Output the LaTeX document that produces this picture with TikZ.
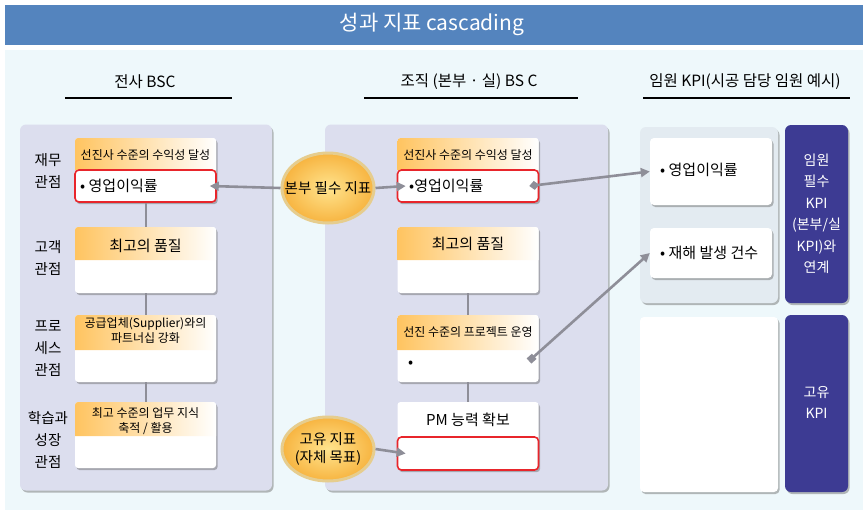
\documentclass[tikz,border=0pt]{standalone}
\usepackage{fontspec}
\setmainfont{Noto Sans CJK KR}
\usetikzlibrary{shapes.geometric,shadows,arrows.meta}
\definecolor{titlebl}{HTML}{5484BE}
\definecolor{bgc}{HTML}{EEF8FB}
\definecolor{panel}{HTML}{DCDEEE}
\definecolor{hdr}{HTML}{FFC460}
\definecolor{redb}{HTML}{E8252B}
\definecolor{navy}{HTML}{3D3B93}
\definecolor{conn}{HTML}{8E8E98}
\definecolor{rpanel}{HTML}{E3EBF1}
\definecolor{ovalrim}{HTML}{E6CD8E}
\definecolor{ovalin}{HTML}{FFE48E}
\definecolor{ovalout}{HTML}{F7B440}
\tikzset{
  shad/.style={drop shadow={shadow xshift=1.5pt, shadow yshift=-2pt, opacity=0.45, fill=black!60}},
  panelbox/.style={fill=panel, rounded corners=6pt, inner sep=0pt, shad},
  card/.style={fill=white, rounded corners=3pt, inner sep=0pt, minimum width=141pt, shad},
  redbox/.style={draw=redb, line width=1.6pt, fill=white, rounded corners=4pt, inner sep=0pt,
    minimum width=141pt, minimum height=32pt},
  hdrshade/.style={left color=hdr, right color=white, middle color=hdr!50},
  oval/.style={ellipse, draw=ovalrim, line width=3pt, inner color=ovalin, outer color=ovalout,
    minimum width=92pt, minimum height=70pt, inner sep=0pt},
  navybox/.style={fill=navy, rounded corners=6pt, inner sep=0pt, minimum width=63pt, shad},
  whitebox/.style={fill=white, rounded corners=4pt, inner sep=0pt, shad},
  heading/.style={font=\fontsize{15.5}{18}\selectfont, inner sep=0pt},
  uline/.style={line width=2.5pt, black},
  side/.style={font=\fontsize{14.5}{22}\selectfont, align=center, inner sep=0pt},
  hsmall/.style={font=\fontsize{12}{15}\selectfont, align=center, inner sep=0pt},
  hmid/.style={font=\fontsize{15}{17}\selectfont, inner sep=0pt},
  kpi/.style={font=\fontsize{15}{17}\selectfont, inner sep=0pt, anchor=west},
  conline/.style={draw=conn, line width=2pt},
  arr/.style={draw=conn, line width=2.6pt, -{Triangle[length=9pt,width=9pt]}},
}
\begin{document}
\begin{tikzpicture}[x=1pt,y=-1pt]
\useasboundingbox (0,0) rectangle (868,512);
\fill[white] (0,0) rectangle (868,512);
% title
\fill[titlebl] (5,5) rectangle (863,45);
\node[text=white, font=\fontsize{21}{24}\selectfont, inner sep=0pt] (title) at (432,24) {성과 지표 cascading};
% background
\fill[bgc] (5,50) rectangle (863,510);
% headings
\node[heading] (h1) at (145,82) {전사 BSC};
\node[heading] (h2) at (469,82) {조직 (본부 · 실) BS C};
\node[heading] (h3) at (745,82) {임원 KPI(시공 담당 임원 예시)};
\draw[uline] (65,98) -- (232,98);
\draw[uline] (364,98) -- (578,98);
\draw[uline] (643,98) -- (850,98);

% panels
\node[panelbox, minimum width=252pt, minimum height=366pt] (lp) at (146,307.5) {};
\node[panelbox, minimum width=283pt, minimum height=366pt] (mp) at (466.5,307.5) {};
\node[panelbox, fill=rpanel, minimum width=138pt, minimum height=176pt] (rp) at (709,215) {};
\node[whitebox, minimum width=138pt, minimum height=175pt] (rl) at (709,404.5) {};
\node[navybox, minimum height=178pt] (nv1) at (816.5,214) {};
\node[navybox, minimum height=177pt] (nv2) at (816.5,403.5) {};

% side labels
\node[side] (s1) at (48,171) {재무\\관점};
\node[side] (s2) at (48,258) {고객\\관점};
\node[side] (s3) at (48,348) {프로\\세스\\관점};
\node[side] (s4) at (48,440) {학습과\\성장\\관점};

% ---- left column cards
\node[card, minimum height=64pt] (l1) at (145.5,170) {};
\shade[hdrshade] (75,170) [rounded corners=3pt]-- (75,138) -- (216,138) [sharp corners]-- (216,170) -- cycle;
\node[hsmall] (l1h) at (145.5,155) {선진사 수준의 수익성 달성};
\node[redbox] (l1r) at (145.5,186) {};
\node[kpi] (l1t) at (80,186) {• 영업이익률};

\node[card, minimum height=66pt] (l2) at (145.5,260) {};
\shade[hdrshade] (75,260) [rounded corners=3pt]-- (75,227) -- (216,227) [sharp corners]-- (216,260) -- cycle;
\node[hmid] (l2h) at (145.5,246) {최고의 품질};

\node[card, minimum height=67pt] (l3) at (145.5,348.5) {};
\shade[hdrshade] (75,350) [rounded corners=3pt]-- (75,315) -- (216,315) [sharp corners]-- (216,350) -- cycle;
\node[hsmall] (l3h) at (145.5,331) {공급업체(Supplier)와의\\파트너십 강화};

\node[card, minimum height=66pt] (l4) at (145.5,435) {};
\shade[hdrshade] (75,436) [rounded corners=3pt]-- (75,402) -- (216,402) [sharp corners]-- (216,436) -- cycle;
\node[hsmall] (l4h) at (145.5,421) {최고 수준의 업무 지식\\축적 / 활용};

\draw[conline] (l1r.south) -- (l2.north);
\draw[conline] (l2.south) -- (l3.north);
\draw[conline] (l3.south) -- (l4.north);

% ---- middle column cards
\node[card, minimum height=64pt] (m1) at (468,170) {};
\shade[hdrshade] (397.5,170) [rounded corners=3pt]-- (397.5,138) -- (538.5,138) [sharp corners]-- (538.5,170) -- cycle;
\node[hsmall] (m1h) at (468,155) {선진사 수준의 수익성 달성};
\node[redbox] (m1r) at (468,186) {};
\node[kpi] (m1t) at (409,186) {•영업이익률};

\node[card, minimum height=66pt] (m2) at (468,260) {};
\shade[hdrshade] (397.5,260) [rounded corners=3pt]-- (397.5,227) -- (538.5,227) [sharp corners]-- (538.5,260) -- cycle;
\node[hmid] (m2h) at (468,244) {최고의 품질};

\node[card, minimum height=67pt] (m3) at (468,348.5) {};
\shade[hdrshade] (397.5,350) [rounded corners=3pt]-- (397.5,315) -- (538.5,315) [sharp corners]-- (538.5,350) -- cycle;
\node[hsmall] (m3h) at (468,332) {선진 수준의 프로젝트 운영};
\node[kpi] (m3t) at (408,364) {•};
\coordinate (m3tail) at (529,361);

\node[card, minimum height=68pt] (m4) at (468,436) {};
\node[hmid] (m4h) at (468,420) {PM 능력 확보};
\node[redbox, minimum height=33pt] (m4r) at (468,453.5) {};

\draw[conline] (m2.south) -- (m3.north);
\draw[conline] (m3.south) -- (m4.north);

% ---- right boxes
\node[whitebox, minimum width=122pt, minimum height=67pt] (r1) at (711,171.5) {};
\node[kpi] (r1t) at (660,170) {• 영업이익률};
\node[whitebox, minimum width=122pt, minimum height=50pt] (r2) at (711,253) {};
\node[kpi] (r2t) at (660,253) {• 재해 발생 건수};

% navy texts
\node[text=white, align=center, font=\fontsize{14}{21.5}\selectfont, inner sep=0pt] (nv1t) at (nv1) {임원\\필수\\KPI\\(본부/실\\KPI)와\\연계};
\node[text=white, align=center, font=\fontsize{14}{21}\selectfont, inner sep=0pt] (nv2t) at (816.5,402.5) {고유\\KPI};

% ---- ovals
\node[oval] (bon) at (328,188) {};
\node[font=\fontsize{14.5}{16}\selectfont, inner sep=0pt] (bont) at (bon) {본부 필수 지표};
\node[oval, minimum height=64pt] (gy) at (328,449) {};
\node[font=\fontsize{14.5}{18}\selectfont, align=center, inner sep=0pt] (gyt) at (gy) {고유 지표\\(자체 목표)};

% ---- arrows
\draw[arr] (bon.west) -- ([xshift=-7pt]l1r.east);
\draw[arr] (bon.east) -- ([xshift=9pt]m1r.west);
\draw[arr, {Diamond[length=10pt,width=9pt]}-{Triangle[length=9pt,width=9pt]}] ([xshift=-10pt]m1r.east) -- (r1.west);
\draw[arr, {Square[length=7pt,width=7pt]}-{Triangle[length=9pt,width=9pt]}] (m3tail) -- (r2.west);
\draw[arr] (gy.east) -- ([xshift=9pt]m4r.west);
\end{tikzpicture}
\end{document}
